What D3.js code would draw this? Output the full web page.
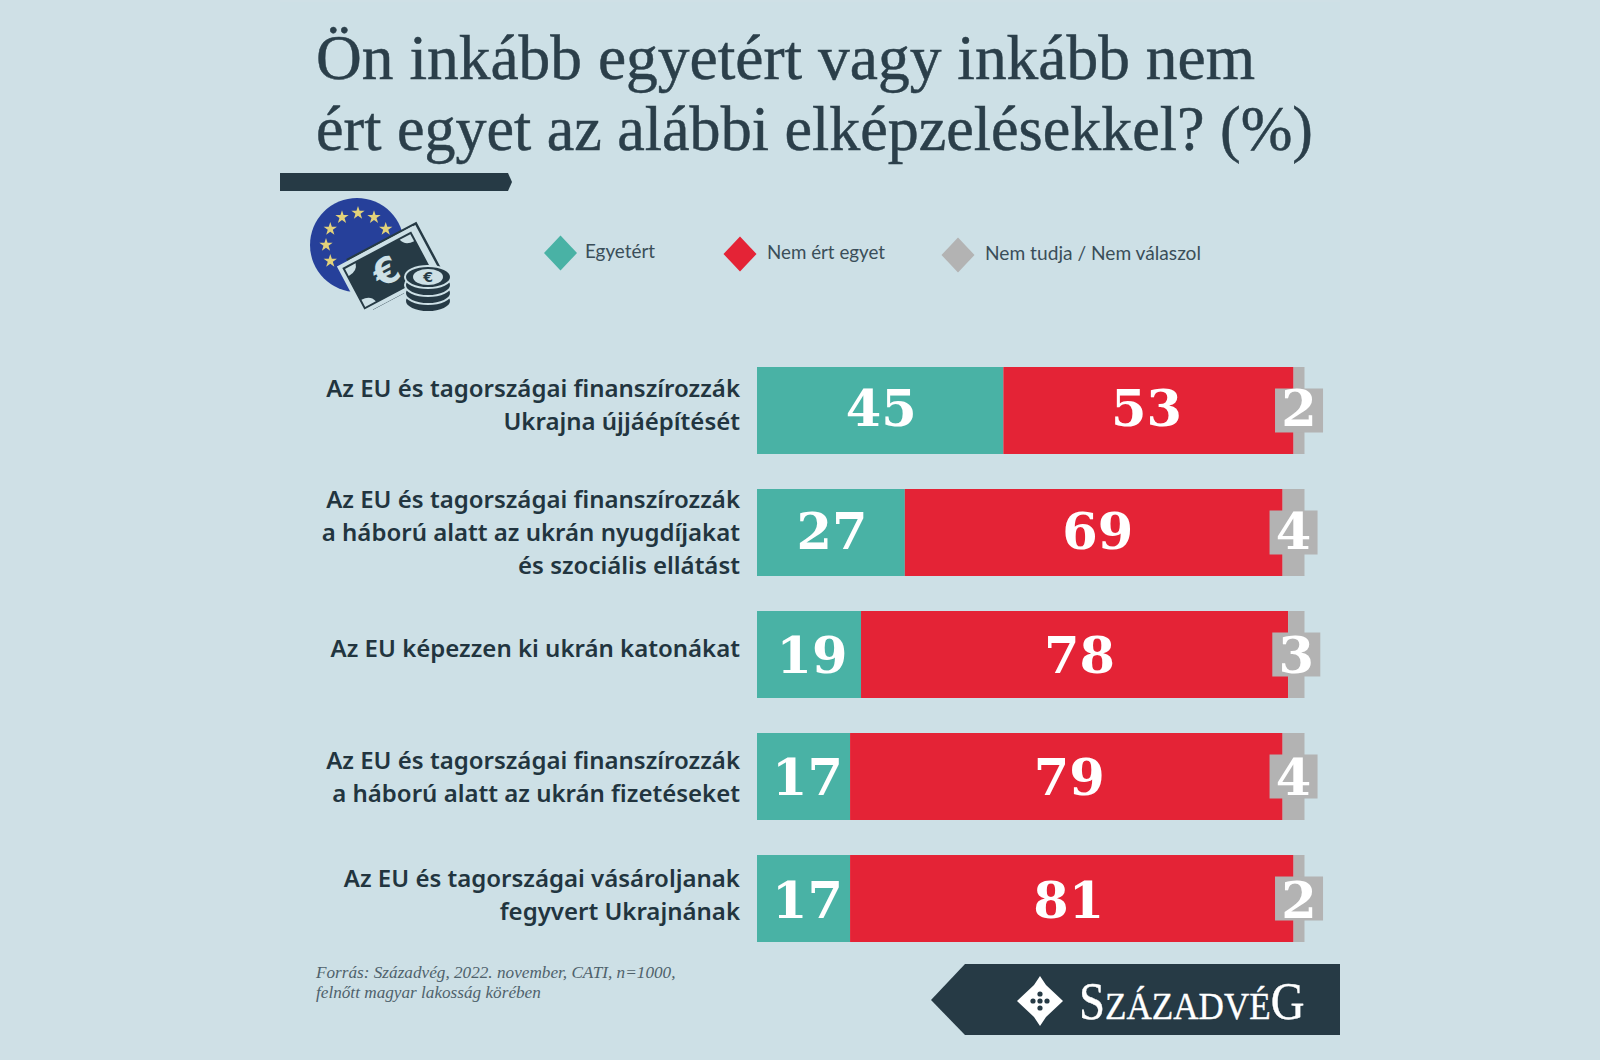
<!DOCTYPE html>
<html lang="hu">
<head>
<meta charset="utf-8">
<script src="https://d3js.org/d3.v7.min.js"></script>
<style>
  html, body { margin: 0; padding: 0; background: #cfe0e6; }
  svg { display: block; }
</style>
</head>
<body>
<script>
const categories = [
  ["Az EU és tagországai finanszírozzák", "Ukrajna újjáépítését"],
  ["Az EU és tagországai finanszírozzák", "a háború alatt az ukrán nyugdíjakat", "és szociális ellátást"],
  ["Az EU képezzen ki ukrán katonákat"],
  ["Az EU és tagországai finanszírozzák", "a háború alatt az ukrán fizetéseket"],
  ["Az EU és tagországai vásároljanak", "fegyvert Ukrajnának"]
];
const agree = [45, 27, 19, 17, 17];
const disagree = [53, 69, 78, 79, 81];
const unknown = [2, 4, 3, 4, 2];
const seriesNames = ["Egyetért", "Nem ért egyet", "Nem tudja / Nem válaszol"];
const titleLines = ["Ön inkább egyetért vagy inkább nem", "ért egyet az alábbi elképzelésekkel? (%)"];
const sourceLines = ["Forrás: Századvég, 2022. november, CATI, n=1000,", "felnőtt magyar lakosság körében"];

const width = 1600;
const height = 1060;
const dark = "#263a45";
const bg = "#cde0e6";
const colors = ["#49b2a5", "#e42336", "#b3b3b3"];

const svg = d3.select("body").append("svg")
  .attr("width", width)
  .attr("height", height);

// panel
svg.append("rect").attr("width", width).attr("height", height).attr("fill", "#cfe0e6");
svg.append("rect").attr("x", 280).attr("y", 2).attr("width", 1060).attr("height", 1058).attr("fill", bg);

// title
svg.selectAll(".title").data(titleLines).enter().append("text")
  .attr("class", "title")
  .attr("x", 316)
  .attr("y", (d, i) => 79 + i * 71)
  .attr("textLength", (d, i) => [939, 997][i])
  .attr("lengthAdjust", "spacingAndGlyphs")
  .attr("font-family", "Liberation Serif")
  .attr("font-size", 64)
  .attr("stroke", "#2b3f4a")
  .attr("stroke-width", 0.5)
  .attr("fill", "#2b3f4a")
  .text(d => d);

svg.append("path")
  .attr("d", "M280,173 H508 L512,182 L508,191 H280 Z")
  .attr("fill", dark);

// icon
const icon = svg.append("g").attr("transform", "translate(358,245)");
icon.append("circle").attr("cx", -1).attr("r", 47).attr("fill", "#26409a");
const star = d3.symbol().type(d3.symbolStar).size(55);
d3.range(7).forEach(k => {
  const a = (150 + k * 30) * Math.PI / 180;
  icon.append("path")
    .attr("d", star)
    .attr("fill", "#e3d27a")
    .attr("transform", "translate(" + (32 * Math.cos(a)) + "," + (32 * Math.sin(a)) + ")");
});
const note = svg.append("g").attr("transform", "translate(388,271) rotate(-28)");
note.append("rect").attr("x", -30).attr("y", -29).attr("width", 77).attr("height", 55)
  .attr("fill", bg).attr("stroke", dark).attr("stroke-width", 2.5);
note.append("rect").attr("x", -41).attr("y", -26).attr("width", 82).attr("height", 51)
  .attr("fill", dark).attr("stroke", bg).attr("stroke-width", 4);
[[-37, -22, 1, 1], [37, -22, -1, 1], [-37, 21, 1, -1], [37, 21, -1, -1]].forEach(c => {
  note.append("path")
    .attr("d", "M" + c[0] + "," + c[1] + " h" + (12 * c[2]) + " q" + (-2 * c[2]) + "," + (8 * c[3]) + " " + (-12 * c[2]) + "," + (8 * c[3]) + " Z")
    .attr("fill", bg);
});
svg.append("text").attr("x", 386).attr("y", 284).attr("text-anchor", "middle")
  .attr("font-family", "DejaVu Sans").attr("font-weight", 700).attr("font-size", 36)
  .attr("fill", bg).attr("transform", "rotate(-28 386 271)").text("€");
const coins = svg.append("g");
d3.range(4).forEach(i => {
  coins.append("ellipse").attr("cx", 428).attr("cy", 301 - i * 8).attr("rx", 23).attr("ry", 11)
    .attr("fill", dark).attr("stroke", bg).attr("stroke-width", 2);
});
coins.append("ellipse").attr("cx", 428).attr("cy", 277).attr("rx", 15).attr("ry", 8)
  .attr("fill", bg);
coins.append("text").attr("x", 428).attr("y", 282).attr("text-anchor", "middle")
  .attr("font-family", "DejaVu Sans").attr("font-weight", 700).attr("font-size", 14)
  .attr("fill", dark).text("€");

// legend
const legendX = [560.5, 740, 958];
const legendLabelX = [585, 767, 985];
const legendLabelLen = [70, 118, 216];
const legendY = [253, 254, 255];
const legend = svg.selectAll(".legend").data(seriesNames).enter().append("g").attr("class", "legend");
legend.append("path")
  .attr("d", "M0,-17.5 L16.5,0 L0,17.5 L-16.5,0 Z")
  .attr("fill", (d, i) => colors[i])
  .attr("transform", (d, i) => "translate(" + legendX[i] + "," + legendY[i] + ")");
legend.append("text")
  .attr("x", (d, i) => legendLabelX[i])
  .attr("y", (d, i) => legendY[i] + 5)
  .attr("textLength", (d, i) => legendLabelLen[i])
  .attr("lengthAdjust", "spacingAndGlyphs")
  .attr("font-family", "Lato")
  .attr("font-size", 20)
  .attr("fill", "#3a4e59")
  .text(d => d);

// bars
const x = d3.scaleLinear().domain([0, 100]).range([757, 1304.5]);
const y = d3.scaleBand().domain(d3.range(categories.length)).range([367, 942]).paddingInner(0.287);

const rows = categories.map((c, i) => ({ row: i, agree: agree[i], disagree: disagree[i], unknown: unknown[i] }));
const stacked = d3.stack().keys(["agree", "disagree", "unknown"])(rows);

const layers = svg.selectAll(".layer").data(stacked).enter().append("g")
  .attr("class", "layer")
  .attr("fill", (d, i) => colors[i]);
layers.selectAll("rect").data(d => d).enter().append("rect")
  .attr("x", d => x(d[0]))
  .attr("y", d => y(d.data.row))
  .attr("width", d => x(d[1]) - x(d[0]))
  .attr("height", y.bandwidth());

// grey box behind the small share
svg.selectAll(".unknown-box").data(stacked[2]).enter().append("rect")
  .attr("class", "unknown-box")
  .attr("x", d => x((d[0] + d[1]) / 2) - 24)
  .attr("y", d => y(d.data.row) + y.bandwidth() / 2 - 22)
  .attr("width", 48)
  .attr("height", 44)
  .attr("fill", colors[2]);

// the numbers in the picture sit a little off the segment centres
const nudge = { agree: [1, 1, 3, 4, 4], disagree: [-2, 4, 5, 3, -3], unknown: [0, 0, 0, 0, 0] };
const rowNudge = [-1, 0, 1, 1, 2];
const values = stacked.flatMap(s => s.map(v => ({ v: v, key: s.key })));
svg.selectAll(".value").data(values).enter().append("text")
  .attr("class", "value")
  .attr("x", d => x((d.v[0] + d.v[1]) / 2) + nudge[d.key][d.v.data.row])
  .attr("y", d => y(d.v.data.row) + y.bandwidth() / 2 + 17 + rowNudge[d.v.data.row])
  .attr("text-anchor", "middle")
  .attr("font-family", "DejaVu Serif")
  .attr("font-weight", 700)
  .attr("font-size", 51)
  .attr("fill", "#fff")
  .text(d => d.v.data[d.key]);

// row labels
const labelOffset = [[4, 37], [-7, 26, 59], [20], [10, 43], [6, 39]];
categories.forEach((lines, i) => {
  svg.selectAll(".row" + i).data(lines).enter().append("text")
    .attr("class", "row" + i)
    .attr("x", 740)
    .attr("y", (d, j) => y(i) + labelOffset[i][j] + 26)
    .attr("text-anchor", "end")
    .attr("font-family", "Noto Sans")
    .attr("font-weight", 600)
    .attr("font-size", 24)
    .attr("fill", "#22353f")
    .text(d => d);
});

// source
svg.selectAll(".source").data(sourceLines).enter().append("text")
  .attr("class", "source")
  .attr("x", 316)
  .attr("y", (d, i) => 978 + i * 20)
  .attr("font-family", "Liberation Serif")
  .attr("font-style", "italic")
  .attr("font-size", 17.2)
  .attr("fill", "#4f626c")
  .text(d => d);

// logo
svg.append("path")
  .attr("d", "M931,1000 L965,964 H1340 V1035 H965 Z")
  .attr("fill", dark);
const logo = svg.append("g").attr("transform", "translate(1040,1001)");
logo.append("path").attr("d", "M0,-25 L6,-16 L23,0 L6,16 L0,25 L-6,16 L-23,0 L-6,-16 Z").attr("fill", "#fff");
[[0, -7], [7, 0], [0, 7], [-7, 0], [0, 0]].forEach(p => {
  logo.append("circle").attr("cx", p[0]).attr("cy", p[1]).attr("r", 2.6).attr("fill", dark);
});
const logoText = svg.append("text")
  .attr("transform", "translate(1079,1019) scale(0.9,1)")
  .attr("font-family", "Liberation Serif")
  .attr("fill", "#fff")
  .attr("stroke", "#fff")
  .attr("stroke-width", 0.4);
logoText.append("tspan").attr("font-size", 52).text("S");
logoText.append("tspan").attr("font-size", 39).text("ZÁZADVÉ");
logoText.append("tspan").attr("font-size", 52).text("G");
</script>
</body>
</html>
